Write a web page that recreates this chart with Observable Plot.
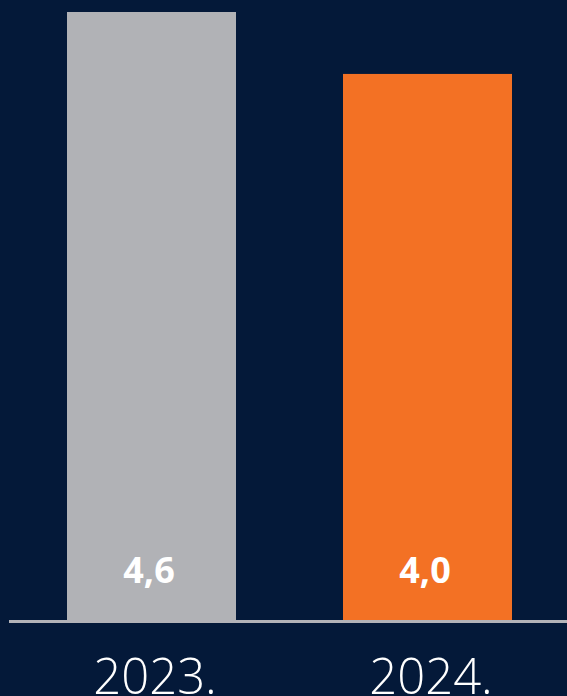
<!DOCTYPE html>
<html>
<head>
<meta charset="utf-8">
<script src="https://cdn.jsdelivr.net/npm/d3@7"></script>
<script src="https://cdn.jsdelivr.net/npm/@observablehq/plot@0.6"></script>
<style>
  html, body { margin: 0; padding: 0; background: #041939; overflow: hidden; }
  #chart svg { display: block; }
</style>
</head>
<body>
<div id="chart"></div>
<script>
const years = ["2023.", "2024."];
const values = [4.6, 4.0];
const valueLabels = ["4,6", "4,0"];
const colors = ["#b1b2b6", "#f37124"];
const yBase = -1.3; // truncated baseline of the bars

const data = years.map((y, i) => ({year: y, value: values[i], label: valueLabels[i], color: colors[i]}));

const chart = Plot.plot({
  width: 567,
  height: 696,
  marginLeft: 9,
  marginRight: 0,
  marginTop: 0,
  marginBottom: 0,
  style: {background: "#041939", fontFamily: "'Open Sans', sans-serif"},
  x: {domain: years, range: [66, 513], paddingInner: 0.386, paddingOuter: 0, axis: null},
  y: {domain: [yBase, 4.6], range: [621, 12], axis: null},
  marks: [
    Plot.barY(data, {x: "year", y1: yBase, y2: "value", fill: d => d.color, inset: 0}),
    Plot.ruleY([yBase], {stroke: "#b3b3b8", strokeWidth: 3}),
    Plot.text(data, {x: "year", y: yBase, text: "label", dx: -3, dy: -39, lineAnchor: "bottom",
      fill: "white", fontSize: 36, fontWeight: 700}),
    Plot.text(data, {x: "year", y: yBase, text: "year", dx: 3, dy: 38, lineAnchor: "top",
      fill: "white", fontSize: 49, fontWeight: 300})
  ]
});
document.getElementById("chart").appendChild(chart);
</script>
</body>
</html>
